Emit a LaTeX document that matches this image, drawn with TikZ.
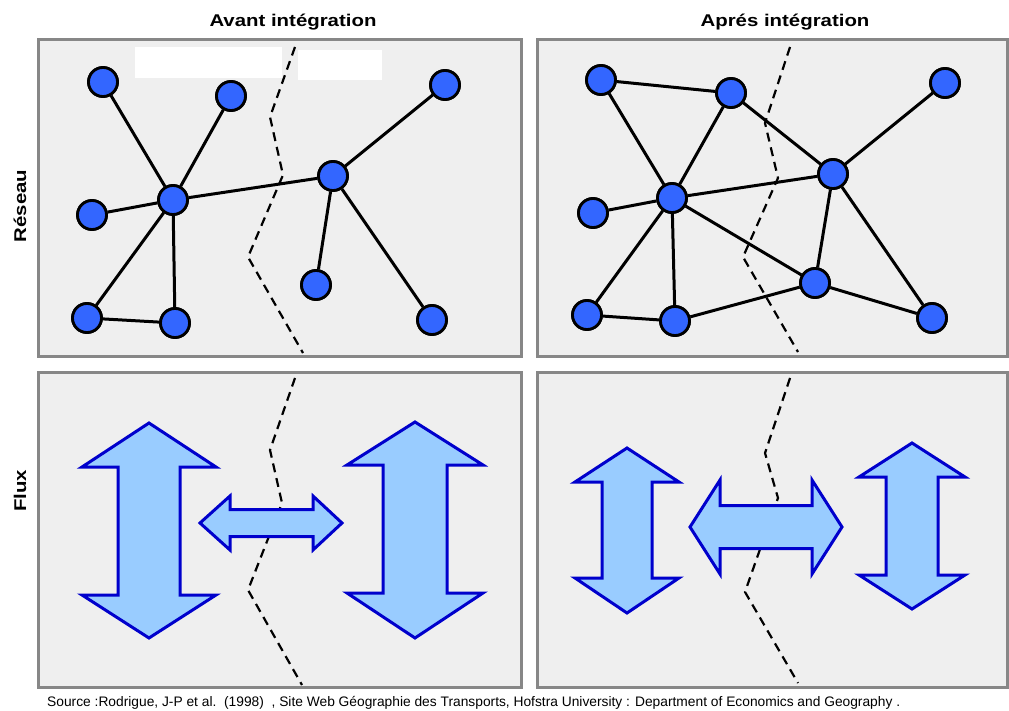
\documentclass[tikz,border=0pt]{standalone}
\usepackage{fontspec}
\usepackage{graphicx}
\setmainfont{Liberation Sans}
\definecolor{panelfill}{RGB}{239,239,239}
\definecolor{panelline}{RGB}{135,135,135}
\definecolor{nodeblue}{RGB}{51,102,255}
\definecolor{arrowfill}{RGB}{153,204,255}
\definecolor{arrowline}{RGB}{0,0,204}
\tikzset{
  panel/.style={draw=panelline, fill=panelfill, line width=3pt},
  netnode/.style={circle, draw=black, fill=nodeblue, line width=2.8pt, minimum size=29pt, inner sep=0pt},
  link/.style={draw=black, line width=3pt},
  border/.style={draw=black, line width=2.2pt, dash pattern=on 9pt off 6pt},
  flux/.style={draw=arrowline, fill=arrowfill, line width=3pt, line join=miter},
  title/.style={font=\fontsize{17}{20}\selectfont\bfseries, anchor=base},
  sidelabel/.style={font=\fontsize{17}{20}\selectfont\bfseries, rotate=90},
  blank/.style={fill=white, draw=none}
}
% vertical double arrow: cx, tip top, head base top, head base bottom, tip bottom, head half-width, shaft half-width
\newcommand{\VFluxArrow}[7]{%
  \path[flux] (#1,#2) -- ({#1+#6},#3) -- ({#1+#7},#3) -- ({#1+#7},#4) -- ({#1+#6},#4)
    -- (#1,#5) -- ({#1-#6},#4) -- ({#1-#7},#4) -- ({#1-#7},#3) -- ({#1-#6},#3) -- cycle;}
% horizontal double arrow: cy, tip left, head base left, head base right, tip right, head half-height, shaft half-height
\newcommand{\HFluxArrow}[7]{%
  \path[flux] (#2,#1) -- (#3,{#1-#6}) -- (#3,{#1-#7}) -- (#4,{#1-#7}) -- (#4,{#1-#6})
    -- (#5,#1) -- (#4,{#1+#6}) -- (#4,{#1+#7}) -- (#3,{#1+#7}) -- (#3,{#1+#6}) -- cycle;}
\begin{document}
\begin{tikzpicture}[x=1pt,y=-1pt]
\useasboundingbox (0,0) rectangle (1009,711);
\fill[white] (0,0) rectangle (1009,711);

% titles
\node[title] (t1) at (293,27) {\scalebox{1.2}[1]{Avant intégration}};
\node[title] (t2) at (785,27) {\scalebox{1.2}[1]{Aprés intégration}};
\node[sidelabel] (s1) at (20,206) {\scalebox{1.2}[1]{Réseau}};
\node[sidelabel] (s2) at (20,491) {\scalebox{1.2}[1]{Flux}};

% panels
\path[panel] (38,40) rectangle (521,356);
\path[panel] (537,40) rectangle (1007,356);
\path[panel] (38,372) rectangle (521,687);
\path[panel] (537,372) rectangle (1007,687);

% white patches
\path[blank] (135,47) rectangle (282,78);
\path[blank] (298,50) rectangle (382,80);

% dashed borders
\draw[border] (295,47) -- (270,117) -- (283,175) -- (248,257) -- (303,353);
\draw[border] (790,47) -- (765,123) -- (778,178) -- (743,257) -- (798,352);
\draw[border] (295,378) -- (270,450) -- (282,503) -- (248,590) -- (302,685);
\draw[border] (790,378) -- (765,453) -- (778,498) -- (745,592) -- (798,683);

% network before
\node[netnode] (A) at (103,82) {};
\node[netnode] (B) at (231,96) {};
\node[netnode] (C) at (173,200) {};
\node[netnode] (D) at (92,215) {};
\node[netnode] (E) at (87,318) {};
\node[netnode] (F) at (175,323) {};
\node[netnode] (G) at (333,176) {};
\node[netnode] (H) at (445,85) {};
\node[netnode] (I) at (316,285) {};
\node[netnode] (J) at (432,320) {};
\path[link] (A) -- (C) (B) -- (C) (D) -- (C) (C) -- (E) (C) -- (F) (E) -- (F)
  (C) -- (G) (G) -- (H) (G) -- (I) (G) -- (J);
\foreach \n in {A,B,C,D,E,F,G,H,I,J} \node[netnode] at (\n) {};

% network after
\node[netnode] (a) at (601,80) {};
\node[netnode] (b) at (731,93) {};
\node[netnode] (c) at (672,198) {};
\node[netnode] (d) at (593,213) {};
\node[netnode] (e) at (587,315) {};
\node[netnode] (f) at (675,321) {};
\node[netnode] (g) at (833,174) {};
\node[netnode] (h) at (945,83) {};
\node[netnode] (i) at (815,283) {};
\node[netnode] (j) at (932,318) {};
\path[link] (a) -- (b) (a) -- (c) (b) -- (c) (b) -- (g) (c) -- (d) (c) -- (e)
  (c) -- (f) (e) -- (f) (c) -- (g) (c) -- (i) (f) -- (i) (g) -- (h) (g) -- (i)
  (g) -- (j) (i) -- (j);
\foreach \n in {a,b,c,d,e,f,g,h,i,j} \node[netnode] at (\n) {};

% flux before
\VFluxArrow{149}{423}{467}{595}{638}{67}{31}
\VFluxArrow{415}{422}{465}{593}{638}{68}{32}
\HFluxArrow{523}{200}{230}{313}{342}{27}{13.5}

% flux after
\VFluxArrow{627}{448}{482}{578}{613}{52}{25}
\VFluxArrow{912}{443}{477}{575}{609}{53}{26}
\HFluxArrow{527}{690}{720}{812}{842}{47}{21.5}

% source
\node[anchor=base west, inner sep=0pt, font=\fontsize{11}{13}\selectfont] (src) at (47,706)
  {\resizebox{853pt}{!}{Source :Rodrigue, J-P et al.\ \ (1998)\ \ , Site Web Géographie des Transports, Hofstra University : Department of Economics and Geography .}};
\end{tikzpicture}
\end{document}
